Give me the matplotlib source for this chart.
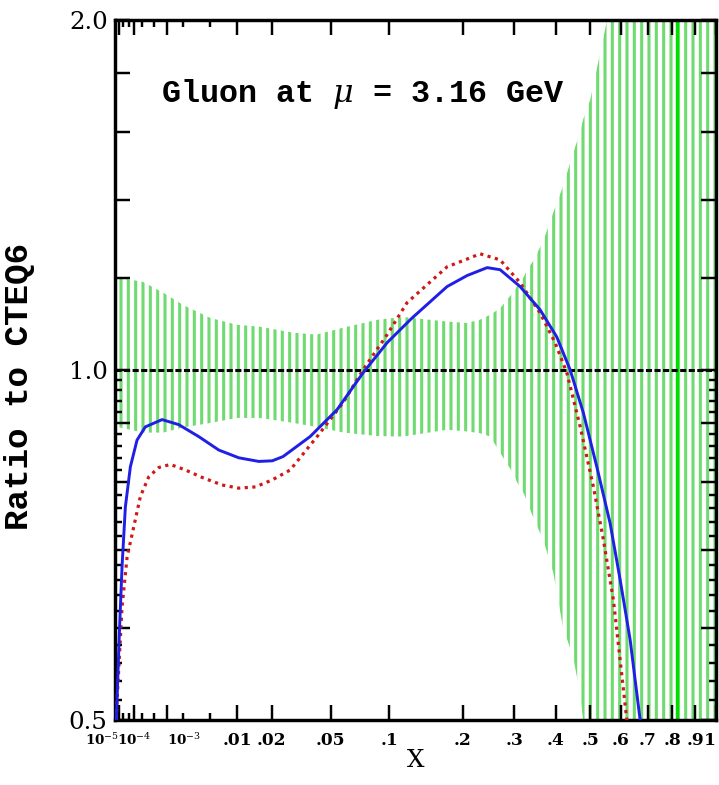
import numpy as np
import matplotlib
matplotlib.use('Agg')
import matplotlib.pyplot as plt

## Gluon ratio to CTEQ6 at mu = 3.16 GeV

# uncertainty band (x, lower, upper)
band_x = [3.2e-6, 1.2e-5, 2.2e-4, 8.2e-4, 2.0e-3, 5.0e-3, 9.9e-3, 1.6e-2, 2.9e-2, 4.1e-2,
          5.9e-2, 8.8e-2, 0.115, 0.175, 0.207, 0.23, 0.25, 0.27, 0.284, 0.297,
          0.306, 0.32, 0.329, 0.343, 0.368, 0.394, 0.42, 0.449, 0.469, 0.478,
          0.50, 0.531, 0.554, 1.0]
band_hi = [1.20, 1.20, 1.19, 1.165, 1.137, 1.108, 1.093, 1.089, 1.076, 1.072,
           1.087, 1.104, 1.11, 1.10, 1.097, 1.104, 1.115, 1.13, 1.149, 1.165,
           1.18, 1.20, 1.219, 1.24, 1.29, 1.365, 1.437, 1.536, 1.60, 1.64,
           1.707, 1.87, 2.0, 2.5]
band_lo = [0.892, 0.892, 0.883, 0.883, 0.892, 0.90, 0.909, 0.909, 0.90, 0.893,
           0.883, 0.877, 0.876, 0.888, 0.885, 0.882, 0.876, 0.848, 0.83, 0.815,
           0.80, 0.784, 0.77, 0.747, 0.714, 0.669, 0.601, 0.566, 0.527, 0.50,
           0.48, 0.45, 0.4, 0.3]

# solid blue curve
blue_x = [4.8e-6, 1.04e-5, 1.8e-5, 3.17e-5, 6.32e-5, 1.31e-4, 2.67e-4, 7.74e-4, 1.69e-3, 3.51e-3,
          6.31e-3, 1.03e-2, 1.57e-2, 2.02e-2, 2.44e-2, 3.74e-2, 5.43e-2, 7.48e-2, 9.78e-2, 0.1257,
          0.1747, 0.2073, 0.2437, 0.2695, 0.3126, 0.3602, 0.4033, 0.4401, 0.479, 0.5206,
          0.564, 0.5983, 0.6339, 0.6709, 0.68]
blue_y = [0.50, 0.594, 0.677, 0.762, 0.825, 0.870, 0.893, 0.906, 0.897, 0.876,
          0.853, 0.840, 0.834, 0.835, 0.842, 0.876, 0.924, 0.994, 1.055, 1.107,
          1.179, 1.205, 1.224, 1.219, 1.179, 1.126, 1.067, 1.0, 0.918, 0.825,
          0.738, 0.66, 0.586, 0.50, 0.49]

# dotted red curve
red_x = [4.8e-6, 5.9e-6, 1.8e-5, 4.1e-5, 9.4e-5, 1.78e-4, 3.43e-4, 6.45e-4, 1.17e-3, 2.2e-3,
         3.9e-3, 6.88e-3, 1.03e-2, 1.47e-2, 2.02e-2, 2.75e-2, 4.14e-2, 5.87e-2, 7.48e-2, 9.78e-2,
         0.1201, 0.1747, 0.2073, 0.2305, 0.2695, 0.3126, 0.3602, 0.3988, 0.4308, 0.4692,
         0.5098, 0.5418, 0.5752, 0.5983, 0.6219, 0.63]
red_y = [0.50, 0.52, 0.625, 0.69, 0.733, 0.778, 0.809, 0.824, 0.829, 0.82,
         0.808, 0.796, 0.791, 0.793, 0.804, 0.82, 0.876, 0.937, 1.0, 1.072,
         1.142, 1.226, 1.245, 1.258, 1.243, 1.188, 1.119, 1.055, 0.994, 0.894,
         0.793, 0.714, 0.634, 0.563, 0.50, 0.49]

x_ticks = [1e-5, 1e-4, 1e-3, .01, .02, .05, .1, .2, .3, .4, .5, .6, .7, .8, .9, 1]
x_labels = ['10$^{-5}$', '10$^{-4}$', '10$^{-3}$', '.01', '.02', '.05', '.1', '.2', '.3',
            '.4', '.5', '.6', '.7', '.8', '.9', '1']
x_minor = [2e-5, 5e-5, 2e-4, 5e-4, 2e-3, 5e-3]
y_ticks = [0.5, 0.6, 0.7, 0.8, 0.9, 1.0, 1.2, 1.4, 1.6, 1.8, 2.0]
y_labels = ['0.5', '', '', '', '', '1.0', '', '', '', '', '2.0']
y_minor = [0.52, 0.54, 0.56, 0.58, 0.62, 0.64, 0.66, 0.68, 0.72, 0.74, 0.76, 0.78,
           0.82, 0.84, 0.86, 0.88, 0.92, 0.94, 0.96, 0.98]

green = '#6fda6f'
plt.rcParams['hatch.color'] = green
plt.rcParams['hatch.linewidth'] = 2.5
plt.rcParams['mathtext.fontset'] = 'dejavuserif'

dpi = 88
fig = plt.figure(figsize=(719 / dpi, 785 / dpi), dpi=dpi)
ax = fig.add_axes([0.16, 0.083, 0.836, 0.892])
ax.set_xscale('function', functions=(np.cbrt, lambda v: np.asarray(v) ** 3))
ax.set_yscale('log')
ax.set_xlim(3.2e-6, 1.0)
ax.set_ylim(0.5, 2.0)

ax.fill_between(band_x, band_lo, band_hi, facecolor='none', edgecolor=green,
                hatch='||', linewidth=0, zorder=1)
ax.axvline(0.82, color='#00e000', lw=2.8, zorder=1)
ax.axhline(1.0, color='black', lw=2.5, linestyle=(0, (2, 0.8)), zorder=2)
ax.plot(red_x, red_y, color='#d01818', lw=2.6, linestyle=(0, (1, 1.4)), zorder=3)
ax.plot(blue_x, blue_y, color='#1f1fe6', lw=2.4, zorder=4)

ax.text(0.413, 0.894, r'Gluon at $\mu$ = 3.16 GeV', transform=ax.transAxes,
        ha='center', va='center', fontsize=26, family='Liberation Mono', fontweight='bold')

ax.set_xticks(x_ticks)
ax.set_xticklabels(x_labels, fontsize=14, fontweight='bold', family='DejaVu Serif')
tl = ax.get_xticklabels()
for t in tl[:3]:
    t.set_fontsize(11)
tl[0].set_horizontalalignment('right')
tl[2].set_horizontalalignment('left')
tl[-1].set_horizontalalignment('right')
ax.set_xticks(x_minor, minor=True)
ax.set_yticks(y_ticks)
ax.set_yticklabels(y_labels, fontsize=20, family='DejaVu Serif')
ax.set_yticks(y_minor, minor=True)
ax.yaxis.set_minor_formatter(plt.NullFormatter())
ax.xaxis.set_minor_formatter(plt.NullFormatter())

ax.tick_params(which='both', direction='in', top=True, right=True, width=2, color='black')
ax.tick_params(which='major', length=12, pad=6)
ax.tick_params(axis='x', which='major', pad=10)
ax.tick_params(which='minor', length=6)
for s in ax.spines.values():
    s.set_linewidth(2.8)

ax.set_xlabel('X', fontsize=20, family='DejaVu Serif', labelpad=0)
ax.set_ylabel('Ratio to CTEQ6', fontsize=28, family='Liberation Mono', fontweight='bold')
ax.yaxis.set_label_coords(-0.133, 0.476)

fig.savefig('out.png', dpi=dpi)
